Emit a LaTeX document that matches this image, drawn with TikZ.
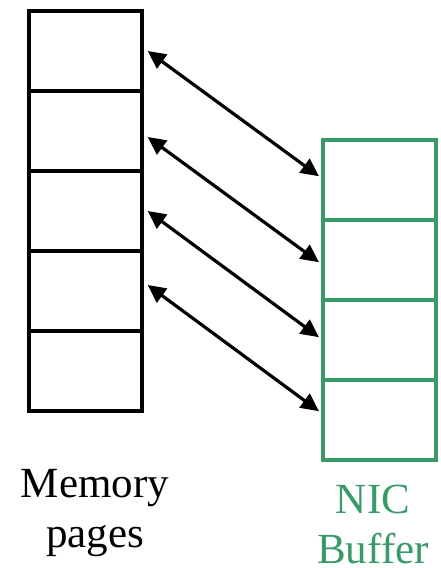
\documentclass[tikz,border=0pt]{standalone}
\usepackage{fontspec}
\setmainfont{Liberation Serif}
\usepackage{tikz}
\usetikzlibrary{arrows.meta, positioning}
\definecolor{nicgreen}{RGB}{56,154,104}

\begin{document}
\begin{tikzpicture}[
      x=1pt, y=-1pt,
      page/.style={draw, line width=3.2pt, minimum width=113pt, minimum height=80pt,
        inner sep=0pt, anchor=center},
      buf/.style={page, draw=nicgreen},
      xfer/.style={line width=3.2pt, {Triangle[length=18pt,width=17pt]}-{Triangle[length=18pt,width=17pt]}},
      lbl/.style={font=\fontsize{43}{50}\selectfont, align=center, anchor=base, inner sep=0pt},
    ]
    \useasboundingbox (0,0) rectangle (441,568);
    % memory pages column
    \foreach \ri in {1,...,5}
      \node[page] (m\ri) at (85.5, 51+80*\ri-80) {};
    % NIC buffer column
    \foreach \ri in {1,...,4}
      \node[buf] (n\ri) at (379.5, 180+80*\ri-80) {};
    % one transfer per buffer slot
    \foreach \ri/\dl/\dr in {1/-3/-2, 2/3/4, 3/-3/-1, 4/-9/-7}
      \draw[xfer, shorten <=5pt, shorten >=3pt]
        ([yshift=-\dl pt]m\ri.east) -- ([yshift=-\dr pt]n\ri.west);
    % captions (anchored on the last line's baseline)
    \node[lbl] (mlab) at (95, 547) {Memory\\pages};
    \node[lbl, text=nicgreen] (nlab) at (373, 563) {NIC\\Buffer};
  \end{tikzpicture}
\end{document}
